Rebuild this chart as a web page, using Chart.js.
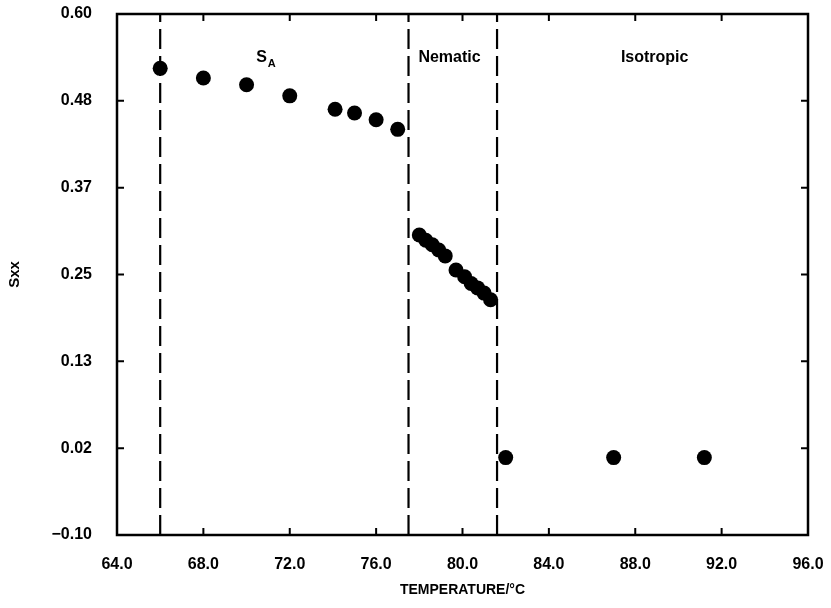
<!DOCTYPE html>
<html>
<head>
<meta charset="utf-8">
<script src="https://cdn.jsdelivr.net/npm/chart.js@4"></script>
<style>
  body { margin: 0; background: #fff; }
  #grafico { display: block; }
</style>
</head>
<body>
<canvas id="grafico" width="831" height="608"></canvas>
<script>
// datos
const temperatura = [66.0, 68.0, 70.0, 72.0, 74.1, 75.0, 76.0, 77.0,
    78.0, 78.3, 78.6, 78.9, 79.2, 79.7, 80.1, 80.4, 80.7, 81.0, 81.3,
    82.0, 87.0, 91.2];
const sxx = [0.527, 0.514, 0.505, 0.490, 0.472, 0.467, 0.458, 0.445,
    0.303, 0.296, 0.290, 0.283, 0.275, 0.256, 0.247, 0.238, 0.232, 0.225, 0.216,
    0.004, 0.004, 0.004];

const transiciones = [66.0, 77.5, 81.6];
const fases = ['S', 'Nematic', 'Isotropic'];
const fasesX = [70.7, 79.4, 88.9];
const faseY = 0.542;

const xTicks = [64, 68, 72, 76, 80, 84, 88, 92, 96];
const xTickLabels = ['64.0', '68.0', '72.0', '76.0', '80.0', '84.0', '88.0', '92.0', '96.0'];
const yTicks = [-0.10, 0.016667, 0.133333, 0.25, 0.366667, 0.483333, 0.60];
const yTickLabels = ['\u22120.10', '0.02', '0.13', '0.25', '0.37', '0.48', '0.60'];

const fuente = '"Liberation Sans", Arial, sans-serif';

const puntos = temperatura.map((t, i) => ({ x: t, y: sxx[i] }));
const lineasFase = transiciones.map(t => ({
    type: 'line',
    data: [{ x: t, y: -0.10 }, { x: t, y: 0.60 }],
    borderColor: '#000',
    borderWidth: 2.2,
    borderDash: [20, 7],
    pointRadius: 0,
    order: 2
}));

// sin relleno extra por las etiquetas, asi el area queda donde la pongo
function sinRelleno(s) {
    s.paddingTop = 0;
    s.paddingBottom = 0;
    s.paddingLeft = 0;
    s.paddingRight = 0;
}

// marco, marcas hacia dentro y etiquetas de las fases
const marcoPlugin = {
    id: 'marco',
    afterDatasetsDraw(chart) {
        const ctx = chart.ctx;
        const a = chart.chartArea;
        const sx = chart.scales.x;
        const sy = chart.scales.y;
        ctx.save();
        ctx.strokeStyle = '#000';
        ctx.lineWidth = 2.5;
        ctx.strokeRect(a.left, a.top, a.right - a.left, a.bottom - a.top);
        ctx.lineWidth = 2;
        const largo = 7;
        xTicks.forEach(v => {
            const px = sx.getPixelForValue(v);
            ctx.beginPath();
            ctx.moveTo(px, a.bottom); ctx.lineTo(px, a.bottom - largo);
            ctx.moveTo(px, a.top); ctx.lineTo(px, a.top + largo);
            ctx.stroke();
        });
        yTicks.forEach(v => {
            const py = sy.getPixelForValue(v);
            ctx.beginPath();
            ctx.moveTo(a.left, py); ctx.lineTo(a.left + largo, py);
            ctx.moveTo(a.right, py); ctx.lineTo(a.right - largo, py);
            ctx.stroke();
        });

        ctx.fillStyle = '#000';
        ctx.textBaseline = 'middle';
        ctx.textAlign = 'center';
        const py = sy.getPixelForValue(faseY);
        fases.forEach((f, i) => {
            const px = sx.getPixelForValue(fasesX[i]);
            ctx.font = 'bold 16px ' + fuente;
            ctx.fillText(f, px, py);
            if (f === 'S') {
                ctx.font = 'bold 11px ' + fuente;
                ctx.fillText('A', px + 10, py + 7);
            }
        });
        ctx.restore();
    }
};

new Chart(document.getElementById('grafico'), {
    type: 'scatter',
    data: {
        datasets: [{
            data: puntos,
            backgroundColor: '#000',
            borderWidth: 0,
            pointRadius: 7.5,
            pointHoverRadius: 7.5,
            order: 1
        }, ...lineasFase]
    },
    options: {
        responsive: false,
        animation: false,
        events: [],
        layout: { padding: { left: 0, top: 14, right: 23, bottom: 0 } },
        plugins: { legend: { display: false }, tooltip: { enabled: false } },
        scales: {
            x: {
                type: 'linear',
                min: 64, max: 96,
                afterBuildTicks: s => { s.ticks = xTicks.map(v => ({ value: v })); },
                afterFit: s => { s.height = 73; sinRelleno(s); },
                grid: { display: false, drawTicks: false },
                border: { display: false },
                ticks: {
                    padding: 20,
                    color: '#000',
                    font: { family: fuente, size: 16, weight: 'bold' },
                    callback: (v) => xTickLabels[xTicks.indexOf(v)]
                },
                title: {
                    display: true,
                    text: 'TEMPERATURE/\u00b0C',
                    color: '#000',
                    font: { family: fuente, size: 14, weight: 'bold' },
                    padding: { top: 2, bottom: 9 }
                }
            },
            y: {
                type: 'linear',
                min: -0.10, max: 0.60,
                afterBuildTicks: s => { s.ticks = yTicks.map(v => ({ value: v })); },
                afterFit: s => { s.width = 117; sinRelleno(s); },
                grid: { display: false, drawTicks: false },
                border: { display: false },
                ticks: {
                    padding: 25,
                    color: '#000',
                    font: { family: fuente, size: 16, weight: 'bold' },
                    callback: (v) => yTickLabels[yTicks.indexOf(v)]
                },
                title: {
                    display: true,
                    text: 'Sxx',
                    color: '#000',
                    font: { family: fuente, size: 15, weight: 'bold' },
                    padding: { top: 6, bottom: 0 }
                }
            }
        }
    },
    plugins: [marcoPlugin]
});
</script>
</body>
</html>
